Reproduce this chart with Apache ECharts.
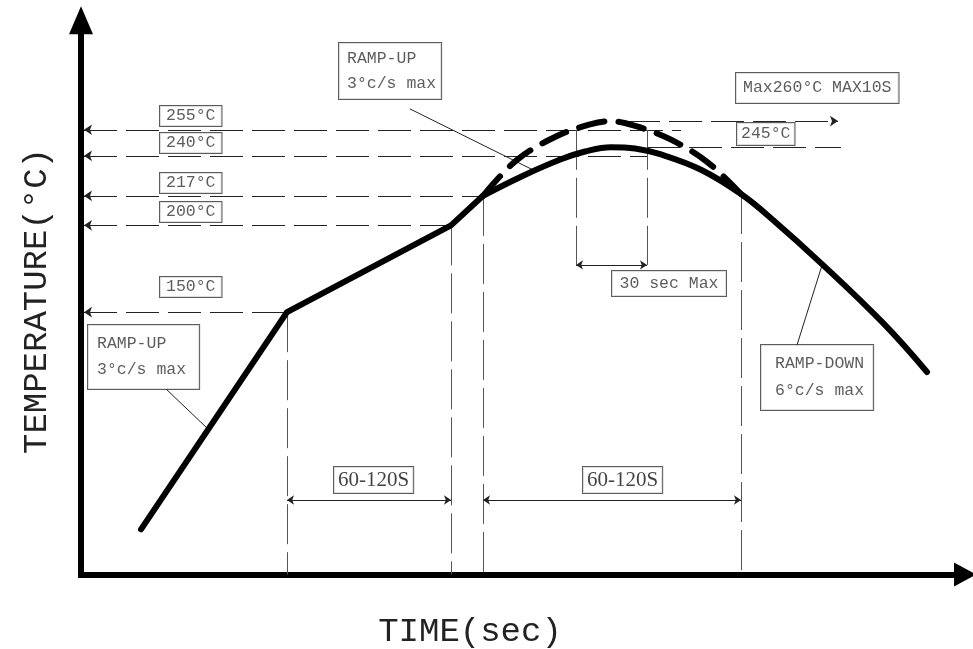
<!DOCTYPE html>
<html>
<head>
<meta charset="utf-8">
<script src="https://cdn.jsdelivr.net/npm/echarts@6/dist/echarts.min.js"></script>
<style>
  html, body { margin: 0; padding: 0; background: #fff; }
  #chart { width: 973px; height: 649px; }
</style>
</head>
<body>
<div id="chart"></div>
<script>
// reflow profile (schematic), time in s, temperature in °C
const rampTime = [30, 103, 185, 201];
const rampTemp = [25, 150, 200, 217];

const profileTime = [201, 220, 240, 252, 265, 277, 290, 310, 330, 346, 370.5, 401, 423];
const profileTemp = [217, 228, 238, 242.5, 245, 244.2, 240.8, 232, 218, 203.1, 177.7, 143.8, 115.6];

const peakTime = [201, 218, 238, 254.5, 264.5, 278, 294.5, 313, 330];
const peakTemp = [217, 237.7, 251.4, 258.1, 260, 256.9, 249.6, 236.6, 218];

// dashed temperature levels and where they stop
const levelTemp = [255, 240, 217, 200, 150];
const levelEnd = [300, 283, 203, 185, 103];
const levelLabels = ['255°C', '240°C', '217°C', '200°C', '150°C'];

// vertical markers
const markTime = [103, 185, 201, 330];
const markTop = [150, 200, 217, 218];

const soakSpan = [103, 185];
const reflowSpan = [201, 330];
const spanLabel = '60-120S';

const peakWindow = [247.5, 283];
const maxTemp = 260;
const maxSpan = [273, 378.5];
const limitTemp = 245;
const limitSpan = [283, 380];

const chart = echarts.init(document.getElementById('chart'));

const mono = '"Liberation Mono", "Courier New", monospace';
const ink = '#222';
const pts = (xs, ys) => xs.map((x, i) => [x, ys[i]]);

const thinDash = { color: ink, width: 1, type: [33, 9], opacity: 1 };
const vDash = { color: '#555', width: 1, type: [40, 8], opacity: 1 };
const thin = { color: ink, width: 1, type: 'solid', opacity: 1 };

const lineStart = 1.5;
const dimTemp = 41.9;
const bracketTemp = 177.2;

const boxLabel = (text, extra) => Object.assign({
  show: true,
  position: 'inside',
  align: 'left',
  verticalAlign: 'middle',
  formatter: text,
  color: '#333',
  fontFamily: mono,
  fontSize: 16.5,
  backgroundColor: '#fff',
  borderColor: '#333',
  borderWidth: 1
}, extra);

const levelBoxT = [263, 247.4, 224.4, 207.7, 164.5];

const notes = levelLabels.map((txt, i) => ({
  value: [39.5, levelBoxT[i]],
  label: boxLabel(txt, { padding: [2, 6], lineHeight: 16 })
})).concat([
  { value: [328, 252.6], label: boxLabel(limitTemp + '°C', { padding: [3, 4], lineHeight: 16 }) },
  { value: [327.5, 279], label: boxLabel('Max' + maxTemp + '°C MAX10S', { padding: [7, 7], lineHeight: 16 }) },
  { value: [265.5, 166.5], label: boxLabel('30 sec Max', { padding: [4.5, 7.5], lineHeight: 16 }) },
  { value: [129, 288.8], label: boxLabel('RAMP-UP\n3°c/s max', { padding: [3, 5, 3, 8], lineHeight: 25 }) },
  { value: [3.5, 124.2], label: boxLabel('RAMP-UP\n3°c/s max', { padding: [6, 13, 6, 9], lineHeight: 26 }) },
  { value: [340, 112.4], label: boxLabel('RAMP-DOWN\n6°c/s max', { padding: [5.5, 9, 5.5, 14], lineHeight: 27 }) },
  { value: [126.5, 53.4], label: boxLabel(spanLabel, { padding: [2.5, 4], lineHeight: 21, fontFamily: '"Liberation Serif", serif', fontSize: 21, color: '#111' }) },
  { value: [251, 53.4], label: boxLabel(spanLabel, { padding: [2.5, 4], lineHeight: 21, fontFamily: '"Liberation Serif", serif', fontSize: 21, color: '#111' }) }
]);

const leaders = [
  [[164.5, 267.0], [226, 231.9]],
  [[42.5, 105.8], [63, 83.3]],
  [[358, 131.1], [370.5, 177]]
];

const option = {
  animation: false,
  backgroundColor: '#fff',
  grid: { left: 81, right: 8, top: 20.35, bottom: 74.5, outerBoundsMode: 'none' },
  xAxis: {
    type: 'value', min: 0, max: 442,
    axisLine: {
      show: true, onZero: false,
      symbol: ['none', 'triangle'], symbolSize: [24, 22],
      lineStyle: { color: '#000', width: 6, cap: 'square' }
    },
    axisTick: { show: false }, axisLabel: { show: false }, splitLine: { show: false }
  },
  yAxis: {
    type: 'value', min: -1, max: 318,
    axisLine: {
      show: true, onZero: false,
      symbol: ['none', 'triangle'], symbolSize: [24, 28],
      lineStyle: { color: '#000', width: 6, cap: 'square' }
    },
    axisTick: { show: false }, axisLabel: { show: false }, splitLine: { show: false }
  },
  graphic: [
    { type: 'text', x: 470, y: 632, style: { text: 'TIME(sec)', font: '34px "Liberation Mono"', fill: ink, align: 'center', verticalAlign: 'middle' } },
    { type: 'text', x: 37, y: 301, rotation: Math.PI / 2, style: { text: 'TEMPERATURE(°C)', font: '34px "Liberation Mono"', fill: ink, align: 'center', verticalAlign: 'middle' } }
  ],
  series: [
    {
      type: 'lines', coordinateSystem: 'cartesian2d', silent: true, z: 2,
      symbol: ['arrow', 'none'], symbolSize: 8, lineStyle: thinDash,
      data: levelTemp.map((T, i) => ({ coords: [[lineStart, T], [levelEnd[i], T]] }))
    },
    {
      type: 'lines', coordinateSystem: 'cartesian2d', silent: true, z: 2,
      symbol: 'none', lineStyle: thinDash,
      data: [{ coords: [[limitSpan[0], limitTemp], [limitSpan[1], limitTemp]] }]
    },
    {
      type: 'lines', coordinateSystem: 'cartesian2d', silent: true, z: 2,
      symbol: ['none', 'arrow'], symbolSize: 8, lineStyle: thinDash,
      data: [{ coords: [[maxSpan[0], maxTemp], [maxSpan[1], maxTemp]] }]
    },
    {
      type: 'lines', coordinateSystem: 'cartesian2d', silent: true, z: 2,
      symbol: 'none', lineStyle: vDash,
      data: markTime.map((t, i) => ({ coords: [[t, markTop[i]], [t, -1]] }))
        .concat(peakWindow.map(t => ({ coords: [[t, 255], [t, bracketTemp]] })))
    },
    {
      type: 'lines', coordinateSystem: 'cartesian2d', silent: true, z: 2,
      symbol: ['arrow', 'arrow'], symbolSize: 7, lineStyle: thin,
      data: [
        { coords: [[soakSpan[0], dimTemp], [soakSpan[1], dimTemp]] },
        { coords: [[reflowSpan[0], dimTemp], [reflowSpan[1], dimTemp]] },
        { coords: [[peakWindow[0], bracketTemp], [peakWindow[1], bracketTemp]] }
      ]
    },
    {
      type: 'lines', coordinateSystem: 'cartesian2d', silent: true, z: 2,
      symbol: 'none', lineStyle: thin,
      data: leaders.map(c => ({ coords: c }))
    },
    {
      type: 'line', data: pts(rampTime, rampTemp), showSymbol: false, silent: true, z: 4,
      lineStyle: { color: '#000', width: 6, cap: 'round', join: 'round' }
    },
    {
      type: 'line', data: pts(profileTime, profileTemp), smooth: 0.4, showSymbol: false, silent: true, z: 4,
      lineStyle: { color: '#000', width: 6, cap: 'round', join: 'round' }
    },
    {
      type: 'line', data: pts(peakTime, peakTemp), smooth: 0.35, showSymbol: false, silent: true, z: 4,
      lineStyle: { color: '#000', width: 6, type: [26, 14], cap: 'round' }
    },
    {
      type: 'scatter', data: notes, symbolSize: 0, silent: true, z: 6
    }
  ]
};

chart.setOption(option);
</script>
</body>
</html>
